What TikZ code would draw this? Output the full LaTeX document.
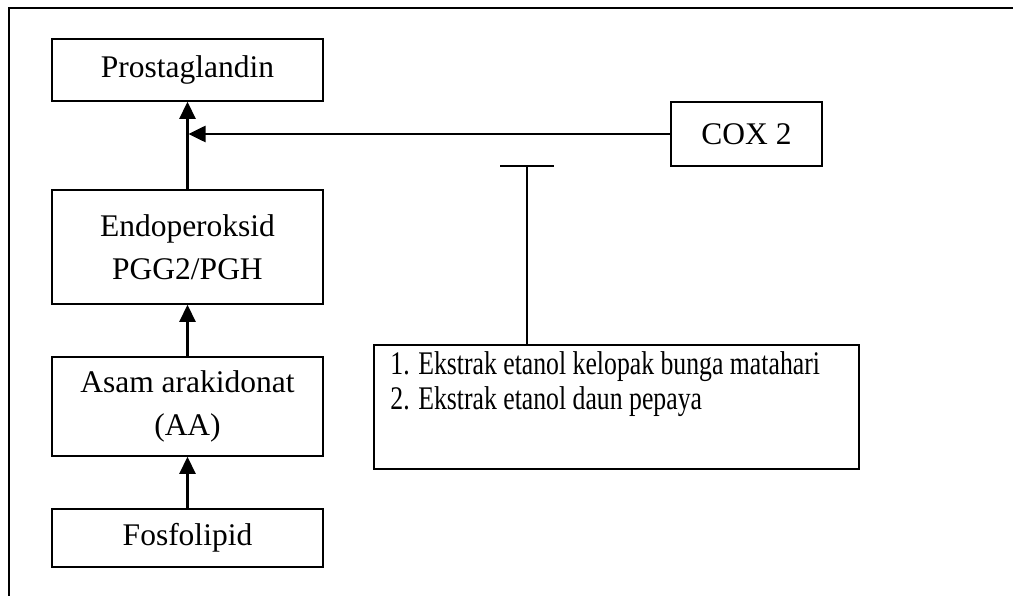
\documentclass[tikz,border=0pt]{standalone}
\usepackage{fontspec}
\setmainfont{Liberation Serif}
\newfontfamily\condfont[FakeStretch=0.78]{Liberation Serif}
\usetikzlibrary{arrows.meta,calc}
\begin{document}
\begin{tikzpicture}[x=1pt,y=-1pt,
  box/.style={draw,line width=1.6pt,rectangle,inner sep=0pt,align=center,
    font=\fontsize{31.5}{43}\selectfont},
  flow/.style={line width=2.6pt,-{Triangle[length=17pt,width=16pt]}},
  inhib/.style={line width=2.6pt},
  frame/.style={line width=1.6pt}]
\useasboundingbox (0,0) rectangle (1013,596);
\draw[frame] (1013,8) -- (9,8) -- (9,596);
\node[box,minimum width=271pt,minimum height=62pt] (prost) at (187.5,70) {Prostaglandin};
\node[box,minimum width=271pt,minimum height=114pt] (endo) at (187.5,247) {Endoperoksid\\PGG2/PGH};
\node[box,minimum width=271pt,minimum height=99pt] (asam) at (187.5,406.5) {Asam arakidonat\\(AA)};
\node[box,minimum width=271pt,minimum height=58pt] (fos) at (187.5,538) {Fosfolipid};
\node[box,minimum width=151pt,minimum height=64pt] (cox) at (746.5,134) {COX 2};
\node[draw,line width=1.6pt,rectangle,minimum width=485pt,minimum height=124pt] (ext) at (616.5,407) {};
\node[anchor=north west,align=left,inner sep=0pt,font=\condfont\fontsize{33}{35}\selectfont] (exttxt)
  at ($(ext.north west)+(17,7)$) {1. Ekstrak etanol kelopak bunga matahari\\2. Ekstrak etanol daun pepaya};
\draw[flow] (fos) -- (asam);
\draw[flow] (asam) -- (endo);
\draw[flow] (endo) -- (prost);
\coordinate (j) at (prost.south |- cox.west);
\draw[flow] (cox.west) -- ([xshift=1pt]j);
\coordinate (tbar) at (527,166);
\draw[inhib] (tbar |- ext.north) -- (tbar);
\draw[line width=1.8pt] ([xshift=-27pt]tbar) -- ([xshift=27pt]tbar);
\end{tikzpicture}
\end{document}
